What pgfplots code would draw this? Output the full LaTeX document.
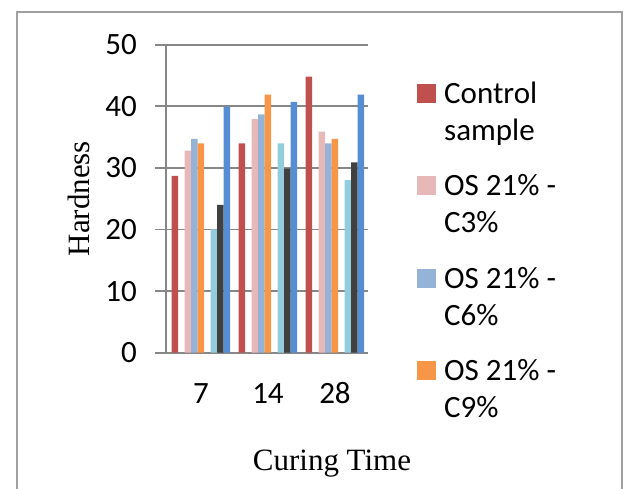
\documentclass[border=0pt]{standalone}
\usepackage{fontspec}
\setmainfont{Carlito}
\newfontfamily\tnr{Liberation Serif}
\usepackage{pgfplots}
\pgfplotsset{compat=1.18}

\definecolor{cCtrl}{HTML}{C0504D}
\definecolor{cThree}{HTML}{E6B9B8}
\definecolor{cSix}{HTML}{95B3D7}
\definecolor{cNine}{HTML}{F79646}
\definecolor{cCyan}{HTML}{93CDDD}
\definecolor{cDark}{HTML}{404040}
\definecolor{cBlue}{HTML}{558ED5}
\definecolor{gridc}{HTML}{878787}
\definecolor{framec}{HTML}{A0A0A0}

\pgfplotsset{sq/.style={legend image code/.code={\fill[##1] (0pt,-12pt) rectangle (19pt,7pt); \path (25pt,0pt);}}}

% hardness per curing time (7, 14, 28 days), groups at x = 0, 1, 2
\pgfplotstableread{
x ctrl c3 c6 c9 s5 s6 s7
0 28.7 32.8 34.7 34.0 20.0 24.0 39.9
1 34.0 37.9 38.7 41.9 34.0 29.9 40.7
2 44.8 35.9 34.0 34.7 28.0 30.9 41.9
}\hard

\begin{document}
\begin{tikzpicture}
\draw[framec, line width=2.5pt] (17pt,-5pt) -- (17pt,477pt) -- (622pt,477pt) -- (622pt,-5pt);
\begin{axis}[
  at={(166pt,136.3pt)}, anchor=south west,
  scale only axis, width=202pt, height=308pt,
  xmin=-0.522, xmax=2.493, ymin=0, ymax=50,
  ybar, bar width=6.5pt,
  axis x line*=bottom, axis y line*=left,
  axis line style={gridc, line width=1.8pt, -},
  ytick={0,10,...,50},
  ymajorgrids, major grid style={gridc, line width=1.8pt},
  ytick align=outside, major tick length=11pt,
  ytick style={gridc, line width=1.8pt},
  xtick={0,1,2}, xticklabels={7,14,28},
  xtick style={draw=none},
  /pgf/number format/assume math mode=true,
  yticklabel style={font=\fontsize{31}{36}\selectfont, inner sep=0pt, xshift=-18pt},
  xticklabel style={font=\fontsize{31}{36}\selectfont, inner sep=0pt, anchor=base, yshift=-40.3pt},
  ylabel={Hardness}, xlabel={Curing Time},
  ylabel style={font=\tnr\fontsize{31}{36}\selectfont, at={(axis description cs:-0.4307,0.5)}, anchor=center},
  xlabel style={font=\tnr\fontsize{31}{36}\selectfont, at={(axis description cs:0.8218,-0.3841)}, anchor=base},
  legend style={at={(axis description cs:1.2426,0.9016)}, anchor=north west,
    draw=none, fill=none, inner sep=0pt, row sep=61pt, column sep=0pt,
    font=\fontsize{31}{37}\selectfont, cells={anchor=base west}},
  legend cell align=left,
]
\addplot[fill=cCtrl, draw=none, bar shift=-26pt, sq] table[x=x, y=ctrl] {\hard};
\addlegendentry{\parbox[t]{160pt}{\rule{0pt}{26pt}Control\\sample\rule[-11pt]{0pt}{11pt}}}
\addplot[fill=cThree, draw=none, bar shift=-13pt, sq] table[x=x, y=c3] {\hard};
\addlegendentry{\parbox[t]{160pt}{\rule{0pt}{26pt}OS 21\% -\\C3\%\rule[-11pt]{0pt}{11pt}}}
\addplot[fill=cSix, draw=none, bar shift=-6.5pt, sq] table[x=x, y=c6] {\hard};
\addlegendentry{\parbox[t]{160pt}{\rule{0pt}{26pt}OS 21\% -\\C6\%\rule[-11pt]{0pt}{11pt}}}
\addplot[fill=cNine, draw=none, bar shift=0pt, sq] table[x=x, y=c9] {\hard};
\addlegendentry{\parbox[t]{160pt}{\rule{0pt}{26pt}OS 21\% -\\C9\%\rule[-11pt]{0pt}{11pt}}}
\addplot[fill=cCyan, draw=none, bar shift=13pt, forget plot] table[x=x, y=s5] {\hard};
\addplot[fill=cDark, draw=none, bar shift=19.5pt, forget plot] table[x=x, y=s6] {\hard};
\addplot[fill=cBlue, draw=none, bar shift=26pt, forget plot] table[x=x, y=s7] {\hard};
\end{axis}
\pgfresetboundingbox
\path[use as bounding box] (0pt,0pt) rectangle (632pt,489pt);
\end{tikzpicture}
\end{document}
